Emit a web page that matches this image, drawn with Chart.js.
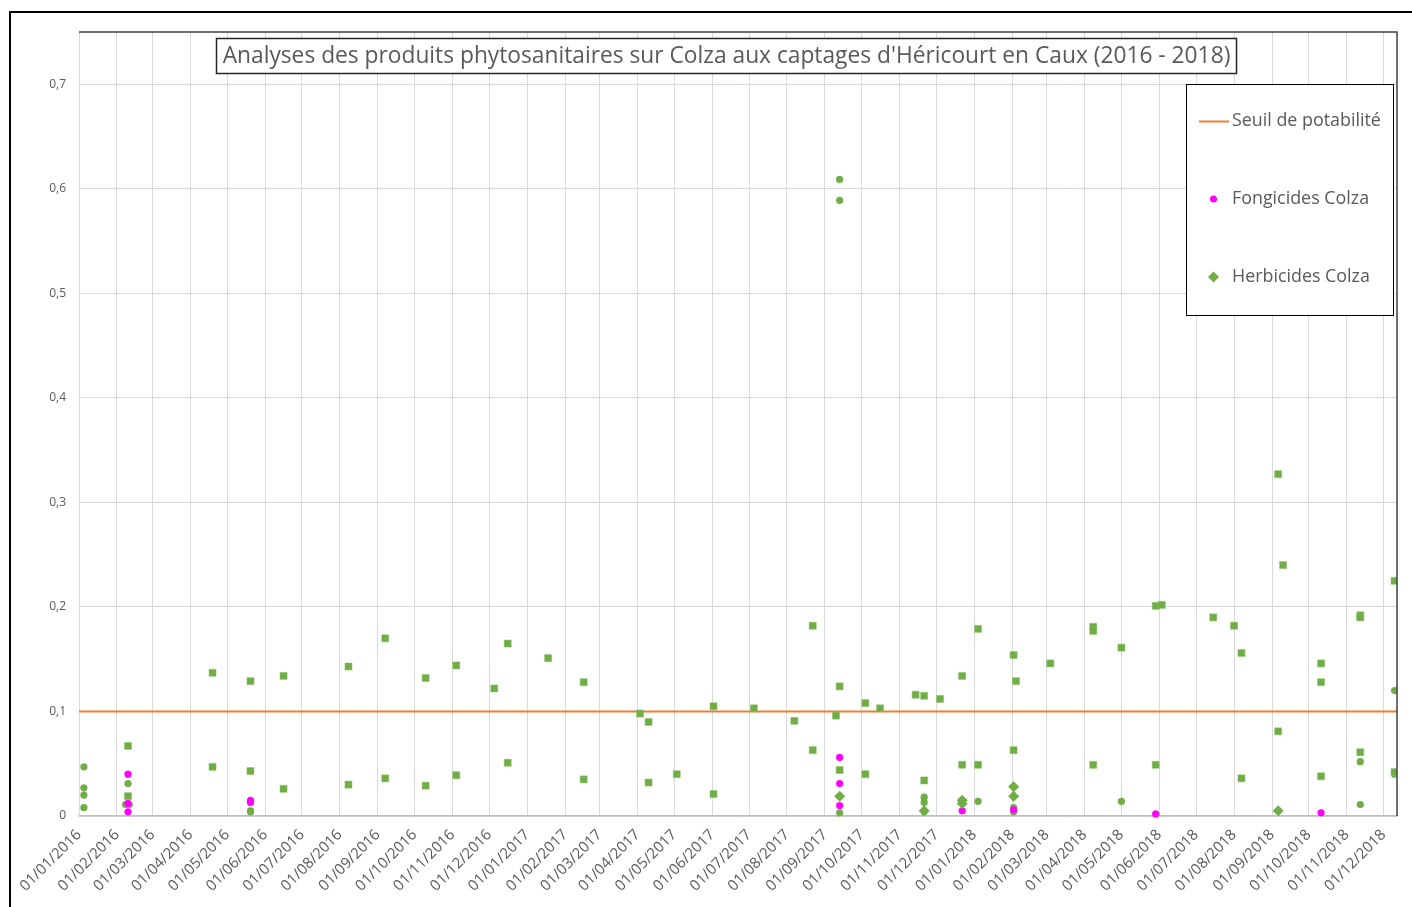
<!DOCTYPE html>
<html>
<head>
<meta charset="utf-8">
<title>Analyses des produits phytosanitaires sur Colza</title>
<script src="https://cdn.jsdelivr.net/npm/chart.js@4.4.1/dist/chart.umd.min.js"></script>
<style>
body { margin: 0; background: #fff; }
</style>
</head>
<body>
<canvas id="canvas" width="1412" height="907"></canvas>
<script>
// seuil de potabilite (µg/L)
var seuil = 0.1;

// Fongicides Colza (ronds magenta)
var fongDates = ['2016-02-10', '2016-02-10', '2016-02-10', '2016-05-20', '2016-05-20',
  '2017-09-13', '2017-09-13', '2017-09-13', '2017-12-22', '2018-02-02', '2018-05-29', '2018-10-11'];
var fongValues = [0.040, 0.012, 0.004, 0.015, 0.013,
  0.056, 0.031, 0.010, 0.005, 0.006, 0.002, 0.003];

// Herbicides Colza (losanges)
var herbDates = ['2017-09-13', '2017-11-21', '2017-12-22', '2017-12-22', '2018-02-02', '2018-02-02', '2018-09-06'];
var herbValues = [0.019, 0.005, 0.015, 0.012, 0.028, 0.019, 0.005];

// autres herbicides (carres)
var herbSqDates = ['2016-02-10', '2016-02-10', '2016-04-19', '2016-04-19', '2016-05-20', '2016-05-20',
  '2016-06-16', '2016-06-16', '2016-08-08', '2016-08-08', '2016-09-07', '2016-09-07',
  '2016-10-10', '2016-10-10', '2016-11-04', '2016-11-04', '2016-12-05', '2016-12-16', '2016-12-16',
  '2017-01-18', '2017-02-16', '2017-02-16', '2017-04-03', '2017-04-10', '2017-04-10',
  '2017-05-03', '2017-06-02', '2017-06-02', '2017-07-05', '2017-08-07', '2017-08-22', '2017-08-22',
  '2017-09-10', '2017-09-13', '2017-09-13', '2017-10-04', '2017-10-04', '2017-10-16',
  '2017-11-14', '2017-11-21', '2017-11-21', '2017-12-04', '2017-12-22', '2017-12-22',
  '2018-01-04', '2018-01-04', '2018-02-02', '2018-02-02', '2018-02-04', '2018-03-04',
  '2018-04-08', '2018-04-08', '2018-04-08', '2018-05-01', '2018-05-29', '2018-05-29', '2018-06-03',
  '2018-07-15', '2018-08-01', '2018-08-07', '2018-08-07', '2018-09-06', '2018-09-06', '2018-09-10',
  '2018-10-11', '2018-10-11', '2018-10-11', '2018-11-12', '2018-11-12', '2018-11-12',
  '2018-12-10', '2018-12-10'];
var herbSqValues = [0.067, 0.019, 0.137, 0.047, 0.129, 0.043,
  0.134, 0.026, 0.143, 0.030, 0.170, 0.036,
  0.132, 0.029, 0.144, 0.039, 0.122, 0.165, 0.051,
  0.151, 0.128, 0.035, 0.098, 0.090, 0.032,
  0.040, 0.105, 0.021, 0.103, 0.091, 0.182, 0.063,
  0.096, 0.124, 0.044, 0.108, 0.040, 0.103,
  0.116, 0.115, 0.034, 0.112, 0.134, 0.049,
  0.179, 0.049, 0.154, 0.063, 0.129, 0.146,
  0.181, 0.177, 0.049, 0.161, 0.201, 0.049, 0.202,
  0.190, 0.182, 0.156, 0.036, 0.327, 0.081, 0.240,
  0.146, 0.128, 0.038, 0.192, 0.190, 0.061,
  0.225, 0.042];

// autres herbicides (ronds verts)
var herbCircDates = ['2016-01-05', '2016-01-05', '2016-01-05', '2016-01-05', '2016-02-08', '2016-02-10', '2016-02-11',
  '2016-05-20', '2016-05-20', '2017-09-13', '2017-09-13', '2017-09-13',
  '2017-11-21', '2017-11-21', '2017-11-21', '2018-01-04', '2018-02-02', '2018-02-02',
  '2018-05-01', '2018-11-12', '2018-11-12', '2018-12-10', '2018-12-10'];
var herbCircValues = [0.047, 0.027, 0.020, 0.008, 0.011, 0.031, 0.011,
  0.005, 0.004, 0.609, 0.589, 0.003,
  0.018, 0.013, 0.004, 0.014, 0.008, 0.004,
  0.014, 0.052, 0.011, 0.120, 0.040];

var yTicks = [0, 0.1, 0.2, 0.3, 0.4, 0.5, 0.6, 0.7];
var dateMin = '2016-01-01';
var dateMax = '2018-12-12';

var DAY = 86400000;
var base = Date.UTC(2016, 0, 1);

function toDay(s) {
    var p = s.split('-');
    return (Date.UTC(+p[0], +p[1] - 1, +p[2]) - base) / DAY;
}

function toPoints(dates, values) {
    return dates.map(function(d, i) { return {x: toDay(d), y: values[i]}; });
}

function fmtDate(v) {
    var d = new Date(base + Math.round(v) * DAY);
    var dd = ('0' + d.getUTCDate()).slice(-2);
    var mm = ('0' + (d.getUTCMonth() + 1)).slice(-2);
    return dd + '/' + mm + '/' + d.getUTCFullYear();
}

var green = '#70AD47';
var magenta = '#FF00FF';
var orange = '#ED7D31';
var textGrey = '#595959';
var clipBox = {left: 6, top: 6, right: 0, bottom: 3};

var decor = {
    id: 'decor',
    beforeDraw: function(chart) {
	var ctx = chart.ctx;
	ctx.save();
	ctx.fillStyle = '#fff';
	ctx.fillRect(0, 0, chart.width, chart.height);
	ctx.restore();
    },
    afterDraw: function(chart) {
	var ctx = chart.ctx, a = chart.chartArea;
	ctx.save();

	// bord du graphique (haut et droite)
	ctx.strokeStyle = '#404040';
	ctx.lineWidth = 1.5;
	ctx.beginPath();
	ctx.moveTo(a.left, a.top);
	ctx.lineTo(a.right, a.top);
	ctx.lineTo(a.right, a.bottom);
	ctx.stroke();

	// cadre exterieur
	ctx.strokeStyle = '#000';
	ctx.lineWidth = 2;
	ctx.strokeRect(10, 12, 1430, 930);

	// titre
	var title = "Analyses des produits phytosanitaires sur Colza aux captages d'Héricourt en Caux (2016 - 2018)";
	ctx.fillStyle = '#fff';
	ctx.fillRect(216.5, 38.5, 1020, 35);
	ctx.strokeStyle = '#262626';
	ctx.lineWidth = 1.5;
	ctx.strokeRect(216.5, 38.5, 1020, 35);
	ctx.font = '20px "Open Sans"';
	var w = ctx.measureText(title).width;
	var size = 20 * 1008 / w;
	ctx.font = size.toFixed(2) + 'px "Open Sans"';
	ctx.fillStyle = textGrey;
	ctx.textAlign = 'center';
	ctx.textBaseline = 'middle';
	ctx.fillText(title, 726.5, 57);

	// legende
	ctx.fillStyle = '#fff';
	ctx.fillRect(1186.5, 84.5, 207, 231);
	ctx.strokeStyle = '#000';
	ctx.lineWidth = 1;
	ctx.strokeRect(1186.5, 84.5, 207, 231);

	ctx.strokeStyle = orange;
	ctx.lineWidth = 2;
	ctx.beginPath();
	ctx.moveTo(1199, 121.5);
	ctx.lineTo(1229, 121.5);
	ctx.stroke();

	ctx.fillStyle = magenta;
	ctx.beginPath();
	ctx.arc(1213.5, 199, 3.5, 0, Math.PI * 2);
	ctx.fill();

	ctx.fillStyle = green;
	ctx.beginPath();
	ctx.moveTo(1213.5, 271.5);
	ctx.lineTo(1219, 277);
	ctx.lineTo(1213.5, 282.5);
	ctx.lineTo(1208, 277);
	ctx.closePath();
	ctx.fill();

	ctx.font = '16px "Open Sans"';
	var lw = ctx.measureText('Seuil de potabilité').width;
	ctx.font = (16 * 149 / lw).toFixed(2) + 'px "Open Sans"';
	ctx.fillStyle = textGrey;
	ctx.textAlign = 'left';
	ctx.fillText('Seuil de potabilité', 1232, 121);
	ctx.fillText('Fongicides Colza', 1232, 199);
	ctx.fillText('Herbicides Colza', 1232, 277);

	ctx.restore();
    }
};

var ctx = document.getElementById('canvas').getContext('2d');

var chartData = {
    datasets: [{
	label: 'Herbicides Colza',
	data: toPoints(herbDates, herbValues),
	pointStyle: 'rectRot',
	pointRadius: 5.5,
	backgroundColor: green,
	borderColor: green,
	borderWidth: 0,
	clip: clipBox
    }, {
	label: 'Fongicides Colza',
	data: toPoints(fongDates, fongValues),
	pointStyle: 'circle',
	pointRadius: 3.6,
	backgroundColor: magenta,
	borderColor: magenta,
	borderWidth: 0,
	clip: clipBox
    }, {
	label: 'Herbicides Colza (2)',
	data: toPoints(herbSqDates, herbSqValues),
	pointStyle: 'rect',
	pointRadius: 5,
	backgroundColor: green,
	borderColor: '#8cc46a',
	borderWidth: 0.5,
	clip: clipBox
    }, {
	label: 'Herbicides Colza (3)',
	data: toPoints(herbCircDates, herbCircValues),
	pointStyle: 'circle',
	pointRadius: 3.6,
	backgroundColor: green,
	borderColor: green,
	borderWidth: 0,
	clip: clipBox
    }, {
	label: 'Seuil de potabilité',
	data: [{x: toDay(dateMin), y: seuil}, {x: toDay(dateMax), y: seuil}],
	showLine: true,
	borderColor: orange,
	borderWidth: 2,
	pointRadius: 0,
	clip: 0
    }]
};

var chartOptions = {
    responsive: false,
    animation: false,
    events: [],
    layout: { padding: { left: 0, top: 32, right: 15, bottom: 0 } },
    plugins: {
	legend: { display: false },
	title: { display: false },
	tooltip: { enabled: false }
    },
    scales: {
	x: {
	    type: 'linear',
	    min: toDay(dateMin),
	    max: toDay(dateMax),
	    afterBuildTicks: function(scale) {
		var t = [];
		for (var y = 2016; y <= 2018; y++) {
		    for (var m = 0; m < 12; m++) {
			t.push({value: (Date.UTC(y, m, 1) - base) / DAY});
		    }
		}
		scale.ticks = t;
	    },
	    afterFit: function(scale) {
		scale.height = 91;
		scale.paddingLeft = 0;
		scale.paddingRight = 0;
	    },
	    grid: { color: '#d9d9d9', drawTicks: false },
	    border: { color: '#bfbfbf', width: 1.5 },
	    ticks: {
		autoSkip: false,
		minRotation: 45,
		maxRotation: 45,
		padding: 10,
		color: textGrey,
		font: { family: '"Open Sans"', size: 15 },
		callback: function(v) { return fmtDate(v); }
	    }
	},
	y: {
	    min: 0,
	    max: 0.75,
	    afterBuildTicks: function(scale) {
		scale.ticks = yTicks.map(function(v) { return {value: v}; });
	    },
	    afterFit: function(scale) {
		scale.width = 79;
		scale.paddingTop = 0;
		scale.paddingBottom = 0;
	    },
	    grid: { color: '#d9d9d9', drawTicks: false },
	    border: { color: '#d9d9d9' },
	    ticks: {
		padding: 13,
		color: textGrey,
		font: { family: '"Open Sans"', size: 12 },
		callback: function(v) { return v === 0 ? '0' : v.toFixed(1).replace('.', ','); }
	    }
	}
    }
};

var myChart = new Chart(ctx, {
    type: 'scatter',
    data: chartData,
    options: chartOptions,
    plugins: [decor]
});
</script>
</body>
</html>
